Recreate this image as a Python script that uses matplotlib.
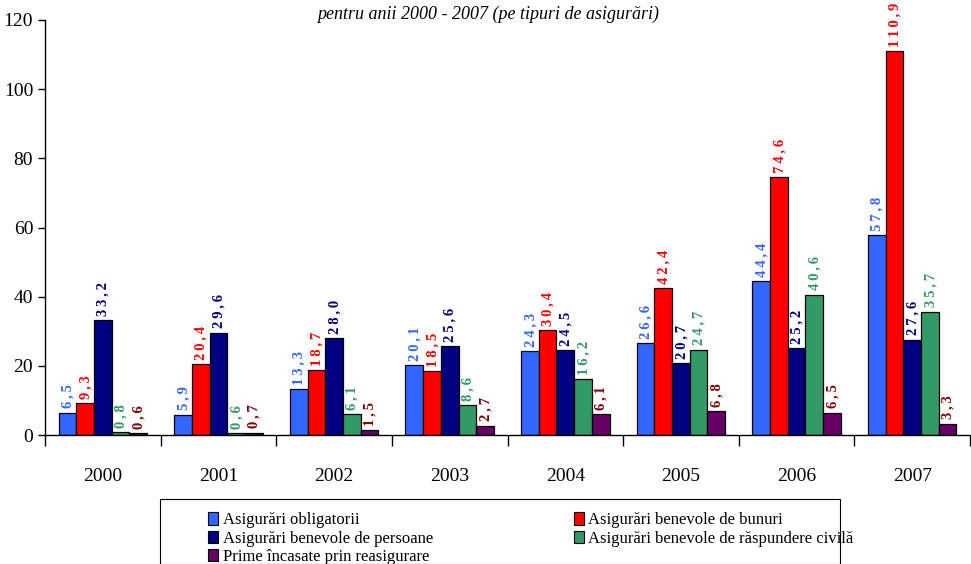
import numpy as np
import matplotlib
matplotlib.use("Agg")
import matplotlib.pyplot as plt
from matplotlib.patches import Rectangle, Patch

plt.rcParams['font.family'] = ['Liberation Serif', 'DejaVu Serif']

years = ["2000", "2001", "2002", "2003", "2004", "2005", "2006", "2007"]
series_names = ["Asigurări obligatorii", "Asigurări benevole de bunuri",
                "Asigurări benevole de persoane",
                "Asigurări benevole de răspundere civilă",
                "Prime încasate prin reasigurare"]
obligatorii = [6.5, 5.9, 13.3, 20.1, 24.3, 26.6, 44.4, 57.8]
bunuri = [9.3, 20.4, 18.7, 18.5, 30.4, 42.4, 74.6, 110.9]
persoane = [33.2, 29.6, 28.0, 25.6, 24.5, 20.7, 25.2, 27.6]
raspundere = [0.8, 0.6, 6.1, 8.6, 16.2, 24.7, 40.6, 35.7]
reasigurare = [0.6, 0.7, 1.5, 2.7, 6.1, 6.8, 6.5, 3.3]

values = [obligatorii, bunuri, persoane, raspundere, reasigurare]
bar_colors = ["#3366FF", "#FF0000", "#000080", "#339966", "#660066"]
label_colors = ["#3366FF", "#FF0000", "#000080", "#339966", "#800000"]

fig = plt.figure(figsize=(9.71, 5.64), dpi=100)
ax = fig.add_axes([45 / 971, 1 - 435 / 564, 925 / 971, 415 / 564])

x = np.arange(len(years))
w = 0.153
for i, (vals, bc, lc) in enumerate(zip(values, bar_colors, label_colors)):
    pos = x + (i - 2) * w
    ax.bar(pos, vals, width=w, color=bc, edgecolor="black", linewidth=0.9)
    for px, v in zip(pos, vals):
        # spaced-out digits like the original
        txt = "\u2009".join(f"{v:.1f}".replace(".", ","))
        ax.annotate(txt, (px, v), xytext=(0.5, 3), textcoords="offset points",
                    rotation=90, ha="center", va="bottom", fontsize=10.5,
                    fontweight="bold", color=lc, annotation_clip=False)

ax.set_xlim(-0.5, len(years) - 0.5)
ax.set_ylim(0, 120)
ax.set_yticks(range(0, 121, 20))
ax.tick_params(axis="y", labelsize=14, length=5, width=1, direction="out")
ax.set_xticks(x)
ax.set_xticklabels(years)
ax.set_xticks(np.arange(-0.5, len(years)), minor=True)
ax.tick_params(axis="x", which="major", length=0, labelsize=14, pad=24)
ax.tick_params(axis="x", which="minor", length=8, width=1, direction="out")
for s in ["top", "right"]:
    ax.spines[s].set_visible(False)
for s in ["left", "bottom"]:
    ax.spines[s].set_linewidth(1)

fig.text(488 / 971, 1 - 14 / 564, "pentru anii 2000 - 2007 (pe tipuri de asigurări)",
         ha="center", va="center", fontsize=13, style="italic")

# legend frame
fig.patches.append(Rectangle((160 / 971, 0), 680 / 971, 1 - 500 / 564 + 0.002,
                             transform=fig.transFigure, fill=False,
                             edgecolor="black", linewidth=0.8))
handles = [Patch(facecolor=c, edgecolor="black", linewidth=0.8) for c in bar_colors]
leg_kw = dict(frameon=False, fontsize=12, handlelength=0.6, handleheight=0.8,
              handletextpad=0.25, labelspacing=0.12, borderpad=0, loc="upper left")
leg1 = fig.legend([handles[0], handles[2], handles[4]],
                  [series_names[0], series_names[2], series_names[4]],
                  bbox_to_anchor=(200 / 971, 1 - 504 / 564), **leg_kw)
leg2 = fig.legend([handles[1], handles[3]], [series_names[1], series_names[3]],
                  bbox_to_anchor=(566 / 971, 1 - 504 / 564), **leg_kw)

fig.savefig("out.png", dpi=100)
